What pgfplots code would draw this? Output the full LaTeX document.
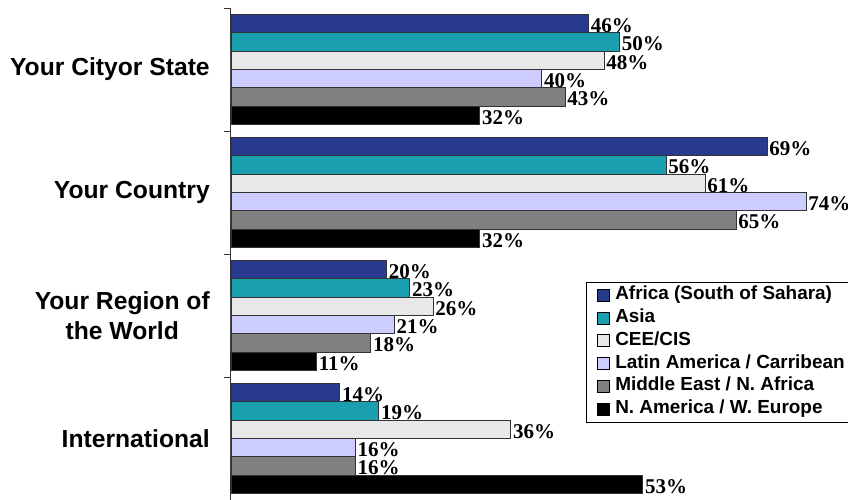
\documentclass[border=0pt]{standalone}
\usepackage{pgfplots}
\pgfplotsset{compat=1.18}
\usepackage{fontspec}
\setmainfont{Liberation Sans}
\newfontfamily\timesfont{Liberation Serif}
\definecolor{cafr}{HTML}{283A8E}
\definecolor{casia}{HTML}{1A9FAE}
\definecolor{ccee}{HTML}{E8E8E8}
\definecolor{clat}{HTML}{CCCCFF}
\definecolor{cme}{HTML}{808080}
\definecolor{cna}{HTML}{000000}
\begin{document}
\begin{tikzpicture}
\begin{axis}[
  at={(0,0)}, anchor=south west,
  scale only axis, width=454.5pt, height=369pt,
  xbar, bar width=0.149,
  xmin=0, xmax=78, ymin=-0.5, ymax=3.5, y dir=reverse,
  axis x line=none, axis y line*=left,
  y axis line style={draw=black!80, line width=0.75pt},
  ytick={0,1,2,3},
  yticklabels={Your Cityor State, Your Country, {Your Region of\\the World}, International},
  yticklabel style={align=center, font=\fontsize{18.5}{22.5}\selectfont\bfseries, inner sep=0pt, xshift=-15.75pt},
  major tick length=0pt,
  minor ytick={-0.5,0.5,1.5,2.5,3.5},
  minor tick length=5.25pt, tick align=outside,
  minor tick style={draw=black!80, line width=0.75pt},
  clip=false,
  nodes near coords={\pgfmathprintnumber{\pgfplotspointmeta}\%},
  nodes near coords style={font=\fontsize{15.75}{18}\timesfont\bfseries, anchor=west, inner sep=1.5pt, yshift=-1.5pt, text=black},
  /pgf/number format/assume math mode=true,
  legend image code/.code={\path[draw=none, fill=none] (0pt,-4.5pt) rectangle (13pt,4.5pt); \path[#1, draw=black, line width=0.6pt] (1.5pt,-4.5pt) rectangle (10.5pt,4.5pt);},
  legend cell align=left,
  legend style={at={(0.586,0.443)}, anchor=north west, draw=black, line width=0.75pt, fill=white,
    inner xsep=6.5pt, inner ysep=1pt, font=\fontsize{14.2}{16}\selectfont\bfseries, row sep=0pt,
    nodes={inner ysep=1.8pt, text height=10pt, text depth=3.5pt}},
]
\addplot[fill=cafr, draw=black!80, line width=0.6pt, bar shift=-0.3725] coordinates {(46,0) (69,1) (20,2) (14,3)};
\addplot[fill=casia, draw=black!80, line width=0.6pt, bar shift=-0.2235] coordinates {(50,0) (56,1) (23,2) (19,3)};
\addplot[fill=ccee, draw=black!80, line width=0.6pt, bar shift=-0.0745] coordinates {(48,0) (61,1) (26,2) (36,3)};
\addplot[fill=clat, draw=black!80, line width=0.6pt, bar shift=0.0745] coordinates {(40,0) (74,1) (21,2) (16,3)};
\addplot[fill=cme, draw=black!80, line width=0.6pt, bar shift=0.2235] coordinates {(43,0) (65,1) (18,2) (16,3)};
\addplot[fill=cna, draw=black!80, line width=0.6pt, bar shift=0.3725] coordinates {(32,0) (32,1) (11,2) (53,3)};
\legend{Africa (South of Sahara), Asia, CEE/CIS, Latin America / Carribean, Middle East / N. Africa, N. America / W. Europe}
\end{axis}
\pgfresetboundingbox
\path[use as bounding box] (-173.25pt,0.75pt) rectangle (462.75pt,375pt);
\end{tikzpicture}
\end{document}
